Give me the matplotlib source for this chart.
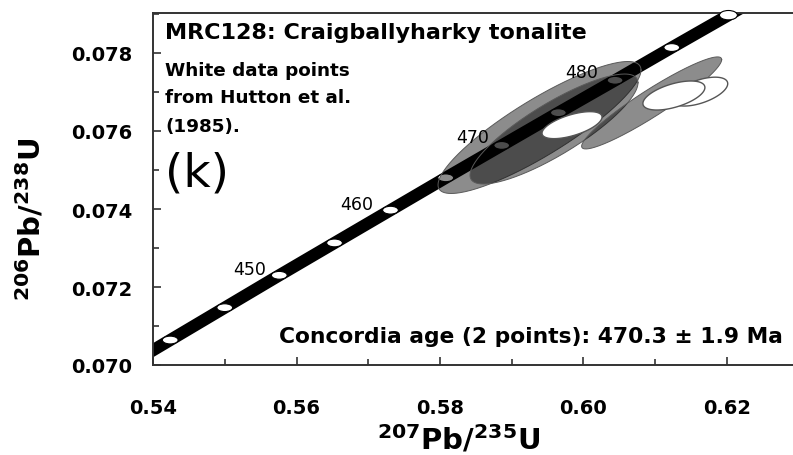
"""Concordia diagram, MRC128 Craigballyharky tonalite (panel k)."""

import numpy as np
import matplotlib
matplotlib.use("Agg")
import matplotlib.pyplot as plt
from matplotlib.patches import Ellipse

plt.rcParams["font.family"] = ["DejaVu Sans"]
plt.rcParams["mathtext.default"] = "bf"

# ---------------------------------------------------------------------------
# Data
# ---------------------------------------------------------------------------
# concordia age markers (Ma) and their 207Pb/235U, 206Pb/238U positions
marker_age = [440, 445, 450, 455, 460, 465, 470, 475, 480, 485, 490]
marker_x = [0.5424, 0.5500, 0.5576, 0.5653, 0.5731, 0.5808,
            0.5886, 0.5965, 0.6044, 0.6123, 0.6202]
marker_y = [0.07064, 0.07147, 0.07230, 0.07313, 0.07397, 0.07480,
            0.07563, 0.07647, 0.07730, 0.07814, 0.07897]
labelled_ages = [450, 460, 470, 480]
label_x = [0.5535, 0.5684, 0.5845, 0.5998]
label_y = [0.07246, 0.07413, 0.07585, 0.07751]

# grey error ellipses (this study): centre, sigma x, sigma y, correlation
grey_cx = [0.59387, 0.59589, 0.6095]
grey_cy = [0.076090, 0.076051, 0.07672]
grey_sx = [0.014146, 0.011707, 0.00976]
grey_sy = [0.001692, 0.001410, 0.00118]
grey_rho = [0.87, 0.84, 0.94]

# white ellipses (Hutton et al. 1985)
white_cx = [0.6162, 0.6126, 0.5984]
white_cy = [0.07701, 0.07691, 0.07615]
white_sx = [0.0039, 0.00432, 0.00418]
white_sy = [0.00037, 0.000372, 0.000346]
white_rho = [0.55, 0.55, 0.6]

x_ticks = [0.54, 0.56, 0.58, 0.60, 0.62]
y_ticks = [0.070, 0.072, 0.074, 0.076, 0.078]


def ellipse_xy(cx, cy, sx, sy, rho, n=240):
    t = np.linspace(0, 2 * np.pi, n)
    x = cx + sx * np.cos(t)
    y = cy + sy * (rho * np.cos(t) + np.sqrt(1 - rho ** 2) * np.sin(t))
    return x, y


def main():
    fig = plt.figure(figsize=(7.93, 4.56), dpi=100)
    ax = fig.add_axes([153 / 793, 90 / 456, 640 / 793, 352 / 456])
    ax.set_xlim(0.54, 0.54 + 640 / 7175)
    ax.set_ylim(0.070, 0.070 + 352 / 39000)

    # concordia band, extended a little past the end markers
    mx = np.array(marker_x)
    my = np.array(marker_y)
    sl0 = (my[1] - my[0]) / (mx[1] - mx[0])
    sl1 = (my[-1] - my[-2]) / (mx[-1] - mx[-2])
    bx = np.r_[mx[0] - 0.01, mx, mx[-1] + 0.01]
    by = np.r_[my[0] - 0.01 * sl0, my, my[-1] + 0.01 * sl1]
    ax.plot(bx, by, color="black", lw=8.8, solid_capstyle="butt", zorder=2)

    for x, y in zip(marker_x, marker_y):
        top = y > 0.0789
        e = Ellipse((x, y), 0.0022 if not top else 0.0025,
                    0.0002 if not top else 0.00024,
                    facecolor="white", edgecolor="black", lw=0.8,
                    zorder=3, clip_on=not top)
        ax.add_patch(e)

    for cx, cy, sx, sy, r in zip(grey_cx, grey_cy, grey_sx, grey_sy, grey_rho):
        x, y = ellipse_xy(cx, cy, sx, sy, r)
        ax.fill(x, y, facecolor="black", alpha=0.45, lw=0, zorder=4)
        ax.plot(x, y, color="#5a5a5a", lw=0.7, zorder=4)

    for cx, cy, sx, sy, r in zip(white_cx, white_cy, white_sx, white_sy,
                                 white_rho):
        x, y = ellipse_xy(cx, cy, sx, sy, r)
        ax.fill(x, y, facecolor="white", edgecolor="#555555", lw=1.0, zorder=5)

    for age, x, y in zip(labelled_ages, label_x, label_y):
        ax.text(x, y, str(age), fontsize=12.5, ha="center", va="center",
                zorder=6)

    # axes styling
    ax.spines["right"].set_visible(False)
    for s in ["left", "bottom", "top"]:
        ax.spines[s].set_linewidth(1.4)
        ax.spines[s].set_color("#333333")
    ax.set_xticks(x_ticks)
    ax.set_xticklabels([f"{v:.2f}" for v in x_ticks])
    ax.set_xticks(np.array(x_ticks[:-1]) + 0.01, minor=True)
    ax.set_yticks(y_ticks)
    ax.set_yticklabels([f"{v:.3f}" for v in y_ticks])
    ax.set_yticks(np.array(y_ticks) + 0.001, minor=True)
    ax.tick_params(which="both", direction="in", color="#333333", width=1.2)
    ax.tick_params(which="major", length=6)
    ax.tick_params(which="minor", length=4)
    ax.tick_params(axis="x", which="major", pad=24, labelsize=14)
    ax.tick_params(axis="y", which="major", pad=15, labelsize=14)
    for lab in ax.get_xticklabels() + ax.get_yticklabels():
        lab.set_fontweight("bold")

    ax.set_xlabel(r"$^{207}$Pb/$^{235}$U", fontsize=21, fontweight="bold")
    ax.xaxis.set_label_coords(0.477, -0.165)
    ax.set_ylabel(r"$^{206}$Pb/$^{238}$U", fontsize=21, fontweight="bold")
    ax.yaxis.set_label_coords(-0.167, 0.415)

    # annotations
    ax.text(0.019, 0.929, "MRC128: Craigballyharky tonalite",
            transform=ax.transAxes, fontsize=16, fontweight="bold",
            va="baseline", zorder=6)
    for txt, yb in zip(["White data points", "from Hutton et al.", "(1985)."],
                       [76, 103, 132]):
        ax.text(0.019, (366 - yb) / 352, txt, transform=ax.transAxes,
                fontsize=13.2, fontweight="bold", va="baseline", zorder=6)
    ax.text(0.019, 0.509, "(k)", transform=ax.transAxes, fontsize=34,
            va="baseline", zorder=6)
    ax.text(0.984, 0.065, "Concordia age (2 points): 470.3 \u00b1 1.9 Ma",
            transform=ax.transAxes, fontsize=15.7, fontweight="bold",
            ha="right", va="baseline", zorder=6)

    fig.savefig("out.png", dpi=100)
    plt.close(fig)


if __name__ == "__main__":
    main()
